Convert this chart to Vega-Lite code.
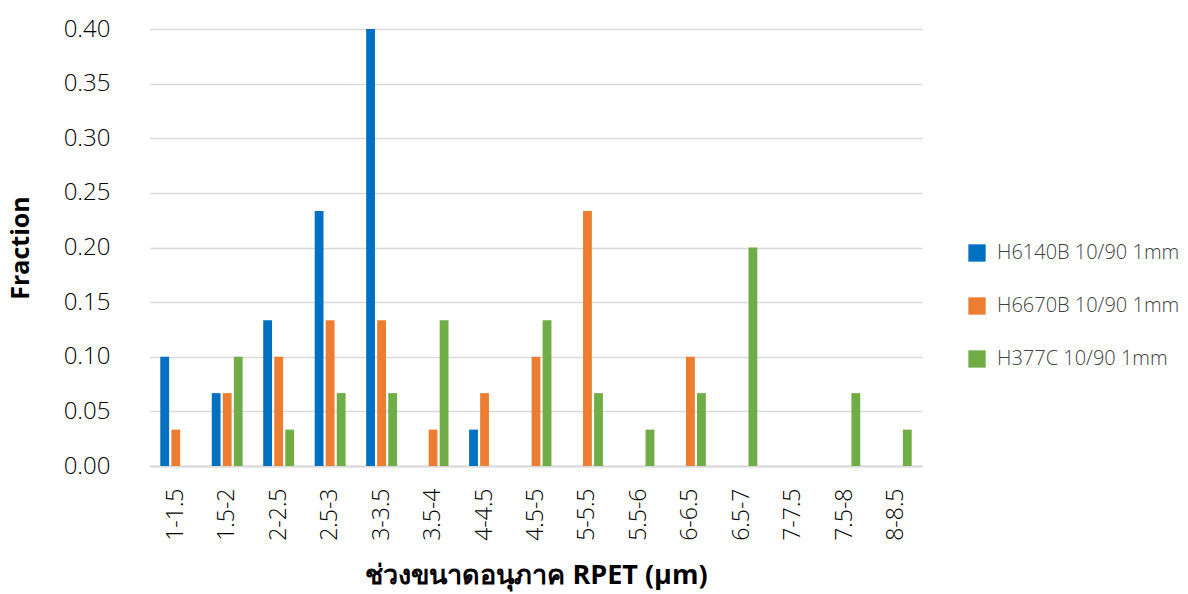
{
  "$schema": "https://vega.github.io/schema/vega-lite/v6.json",
  "width": 772,
  "height": 437,
  "autosize": {"type": "none"},
  "padding": {"left": 150, "top": 29, "right": 266, "bottom": 128},
  "background": "white",
  "config": {
    "view": {"stroke": null},
    "font": "Open Sans"
  },
  "data": {
    "values": [
      {"range": "1-1.5", "series": "H6140B 10/90 1mm", "fraction": 0.1},
      {"range": "1-1.5", "series": "H6670B 10/90 1mm", "fraction": 0.0333},
      {"range": "1-1.5", "series": "H377C 10/90 1mm", "fraction": 0},
      {"range": "1.5-2", "series": "H6140B 10/90 1mm", "fraction": 0.0667},
      {"range": "1.5-2", "series": "H6670B 10/90 1mm", "fraction": 0.0667},
      {"range": "1.5-2", "series": "H377C 10/90 1mm", "fraction": 0.1},
      {"range": "2-2.5", "series": "H6140B 10/90 1mm", "fraction": 0.1333},
      {"range": "2-2.5", "series": "H6670B 10/90 1mm", "fraction": 0.1},
      {"range": "2-2.5", "series": "H377C 10/90 1mm", "fraction": 0.0333},
      {"range": "2.5-3", "series": "H6140B 10/90 1mm", "fraction": 0.2333},
      {"range": "2.5-3", "series": "H6670B 10/90 1mm", "fraction": 0.1333},
      {"range": "2.5-3", "series": "H377C 10/90 1mm", "fraction": 0.0667},
      {"range": "3-3.5", "series": "H6140B 10/90 1mm", "fraction": 0.4},
      {"range": "3-3.5", "series": "H6670B 10/90 1mm", "fraction": 0.1333},
      {"range": "3-3.5", "series": "H377C 10/90 1mm", "fraction": 0.0667},
      {"range": "3.5-4", "series": "H6140B 10/90 1mm", "fraction": 0},
      {"range": "3.5-4", "series": "H6670B 10/90 1mm", "fraction": 0.0333},
      {"range": "3.5-4", "series": "H377C 10/90 1mm", "fraction": 0.1333},
      {"range": "4-4.5", "series": "H6140B 10/90 1mm", "fraction": 0.0333},
      {"range": "4-4.5", "series": "H6670B 10/90 1mm", "fraction": 0.0667},
      {"range": "4-4.5", "series": "H377C 10/90 1mm", "fraction": 0},
      {"range": "4.5-5", "series": "H6140B 10/90 1mm", "fraction": 0},
      {"range": "4.5-5", "series": "H6670B 10/90 1mm", "fraction": 0.1},
      {"range": "4.5-5", "series": "H377C 10/90 1mm", "fraction": 0.1333},
      {"range": "5-5.5", "series": "H6140B 10/90 1mm", "fraction": 0},
      {"range": "5-5.5", "series": "H6670B 10/90 1mm", "fraction": 0.2333},
      {"range": "5-5.5", "series": "H377C 10/90 1mm", "fraction": 0.0667},
      {"range": "5.5-6", "series": "H6140B 10/90 1mm", "fraction": 0},
      {"range": "5.5-6", "series": "H6670B 10/90 1mm", "fraction": 0},
      {"range": "5.5-6", "series": "H377C 10/90 1mm", "fraction": 0.0333},
      {"range": "6-6.5", "series": "H6140B 10/90 1mm", "fraction": 0},
      {"range": "6-6.5", "series": "H6670B 10/90 1mm", "fraction": 0.1},
      {"range": "6-6.5", "series": "H377C 10/90 1mm", "fraction": 0.0667},
      {"range": "6.5-7", "series": "H6140B 10/90 1mm", "fraction": 0},
      {"range": "6.5-7", "series": "H6670B 10/90 1mm", "fraction": 0},
      {"range": "6.5-7", "series": "H377C 10/90 1mm", "fraction": 0.2},
      {"range": "7-7.5", "series": "H6140B 10/90 1mm", "fraction": 0},
      {"range": "7-7.5", "series": "H6670B 10/90 1mm", "fraction": 0},
      {"range": "7-7.5", "series": "H377C 10/90 1mm", "fraction": 0},
      {"range": "7.5-8", "series": "H6140B 10/90 1mm", "fraction": 0},
      {"range": "7.5-8", "series": "H6670B 10/90 1mm", "fraction": 0},
      {"range": "7.5-8", "series": "H377C 10/90 1mm", "fraction": 0.0667},
      {"range": "8-8.5", "series": "H6140B 10/90 1mm", "fraction": 0},
      {"range": "8-8.5", "series": "H6670B 10/90 1mm", "fraction": 0},
      {"range": "8-8.5", "series": "H377C 10/90 1mm", "fraction": 0.0333}
    ]
  },
  "mark": {"type": "bar"},
  "encoding": {
    "x": {
      "field": "range",
      "type": "nominal",
      "sort": null,
      "scale": {"paddingInner": 0.4, "paddingOuter": 0.2},
      "axis": {
        "title": "ช่วงขนาดอนุภาค RPET (µm)",
        "titleFontSize": 27,
        "titleFontWeight": "bold",
        "titleColor": "#000000",
        "titlePadding": 22,
        "labelAngle": -90,
        "labelFontSize": 23,
        "labelFontWeight": 300,
        "labelColor": "#000000",
        "labelPadding": 22,
        "ticks": false,
        "domainColor": "#d9d9d9",
        "domainWidth": 2,
        "grid": false
      }
    },
    "xOffset": {
      "field": "series",
      "type": "nominal",
      "sort": ["H6140B 10/90 1mm", "H6670B 10/90 1mm", "H377C 10/90 1mm"],
      "scale": {"paddingInner": 0.2}
    },
    "y": {
      "field": "fraction",
      "type": "quantitative",
      "scale": {"domain": [0, 0.4], "nice": false},
      "axis": {
        "title": "Fraction",
        "titleFontSize": 25,
        "titleFontWeight": "bold",
        "titleColor": "#000000",
        "titlePadding": 30,
        "values": [0, 0.05, 0.1, 0.15, 0.2, 0.25, 0.3, 0.35, 0.4],
        "format": ".2f",
        "labelFontSize": 24,
        "labelFontWeight": 300,
        "labelColor": "#000000",
        "labelPadding": 40,
        "ticks": false,
        "domain": false,
        "gridColor": "#d9d9d9",
        "gridWidth": 1.5
      }
    },
    "color": {
      "field": "series",
      "type": "nominal",
      "sort": ["H6140B 10/90 1mm", "H6670B 10/90 1mm", "H377C 10/90 1mm"],
      "scale": {"range": ["#0070C0", "#ED7D31", "#70AD47"]},
      "legend": {
        "title": null,
        "orient": "none",
        "legendX": 817,
        "legendY": 214,
        "symbolType": "square",
        "symbolSize": 300,
        "symbolStrokeWidth": 0,
        "labelFontSize": 20,
        "labelFontWeight": 300,
        "labelLimit": 400,
        "labelColor": "#404040",
        "labelOffset": 10,
        "rowPadding": 33
      }
    }
  }
}
